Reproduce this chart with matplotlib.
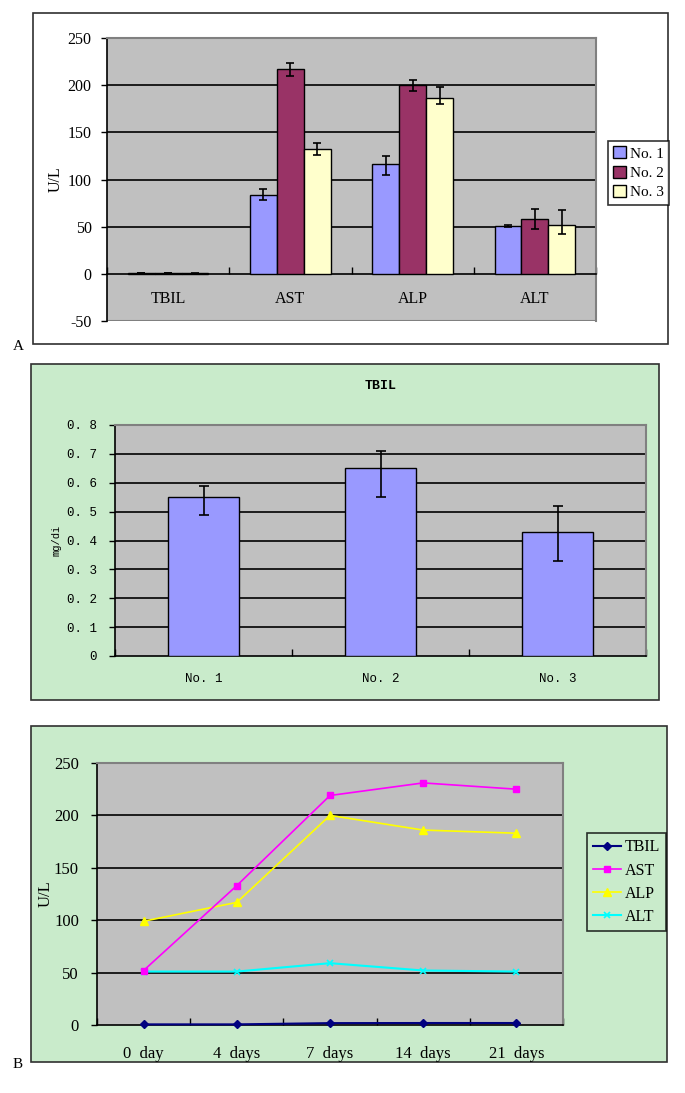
import matplotlib
matplotlib.use("Agg")
import matplotlib.pyplot as plt
import numpy as np
from matplotlib.patches import Rectangle

# ---------------- data ----------------
# Panel A
tests_A = ["TBIL", "AST", "ALP", "ALT"]
groups = ["No. 1", "No. 2", "No. 3"]
no1_vals = [0.55, 84, 116, 51]
no2_vals = [0.65, 217, 200, 58]
no3_vals = [0.43, 132, 186, 52]
no1_err_lo = [0.06, 6, 11, 1]
no1_err_hi = [0.04, 6, 9, 1]
no2_err_lo = [0.10, 7, 6, 11]
no2_err_hi = [0.06, 6, 6, 11]
no3_err_lo = [0.10, 6, 6, 10]
no3_err_hi = [0.09, 7, 12, 16]
yticks_A = [-50, 0, 50, 100, 150, 200, 250]

# Panel TBIL
tbil_groups = ["No. 1", "No. 2", "No. 3"]
tbil_vals = [0.55, 0.65, 0.43]
tbil_err_lo = [0.06, 0.10, 0.10]
tbil_err_hi = [0.04, 0.06, 0.09]
yticks_T = [0, 0.1, 0.2, 0.3, 0.4, 0.5, 0.6, 0.7, 0.8]
ytick_labels_T = ["0", "0. 1", "0. 2", "0. 3", "0. 4", "0. 5", "0. 6", "0. 7", "0. 8"]

# Panel B
days = ["0  day", "4  days", "7  days", "14  days", "21  days"]
tbil_B = [0.6, 0.6, 1.8, 1.9, 1.9]
ast_B = [52, 133, 219, 231, 225]
alp_B = [99, 117, 200, 186, 183]
alt_B = [51, 51, 59, 52, 51]
yticks_B = [0, 50, 100, 150, 200, 250]

# ---------------- layout helpers ----------------
W, H = 685, 1093
fig = plt.figure(figsize=(W / 100, H / 100), dpi=100)
fig.patch.set_facecolor("white")


def ax_px(l, r, t, b):
    a = fig.add_axes([l / W, 1 - b / H, (r - l) / W, (b - t) / H])
    a.set_zorder(2)
    return a


def frame_px(l, r, t, b, fc, ec="#303030", lw=1.2):
    fig.patches.append(Rectangle((l / W, 1 - b / H), (r - l) / W, (b - t) / H,
                                 transform=fig.transFigure, facecolor=fc,
                                 edgecolor=ec, lw=lw, zorder=-5))


GREEN = "#C9EBCB"
GRAY = "#C0C0C0"
SERIF = "Liberation Serif"
MONO = "Liberation Mono"

# ================= Panel A =================
frame_px(33, 668, 13, 344, "white")
fig.text(18 / W, 1 - 347 / H, "A", fontsize=11, family=SERIF, ha="center", va="center")
axA = ax_px(107, 596, 38, 321)
axA.set_facecolor(GRAY)
axA.set_xlim(-0.5, len(tests_A) - 0.5)
axA.set_ylim(-50, 250)
x = np.arange(len(tests_A))
bw = 0.22
ekw = dict(ecolor="black", elinewidth=1.2, capsize=3.2, capthick=1.2)
axA.bar(x - bw, no1_vals, bw, color="#9999FF", edgecolor="black", lw=1,
        yerr=[no1_err_lo, no1_err_hi], error_kw=ekw, label=groups[0], zorder=3)
axA.bar(x, no2_vals, bw, color="#993366", edgecolor="black", lw=1,
        yerr=[no2_err_lo, no2_err_hi], error_kw=ekw, label=groups[1], zorder=3)
axA.bar(x + bw, no3_vals, bw, color="#FFFFCC", edgecolor="black", lw=1,
        yerr=[no3_err_lo, no3_err_hi], error_kw=ekw, label=groups[2], zorder=3)
for v in yticks_A[2:-1]:
    axA.axhline(v, color="black", lw=1.2, zorder=1)
axA.axhline(-50, color="#808080", lw=1.5, zorder=1)
axA.spines["bottom"].set_position(("data", 0))
axA.spines["bottom"].set_color("black")
axA.spines["bottom"].set_linewidth(1.2)
axA.spines["left"].set_color("black")
axA.spines["left"].set_linewidth(1.2)
for s in ("top", "right"):
    axA.spines[s].set_color("#808080")
    axA.spines[s].set_linewidth(1.5)
axA.set_xticks(np.arange(len(tests_A) + 1) - 0.5)
axA.set_xticklabels([])
axA.tick_params(axis="x", direction="in", length=5, width=1, color="black")
for i, t in enumerate(tests_A):
    axA.text(i, -27, t, ha="center", va="center", fontsize=11.5, family=SERIF)
axA.set_yticks(yticks_A)
axA.set_yticklabels([str(v) for v in yticks_A], fontsize=11.5, family=SERIF)
axA.tick_params(axis="y", direction="out", length=4, width=1, pad=7)
axA.set_ylabel("U/L", fontsize=11.5, family=SERIF)
axA.yaxis.set_label_coords(-(107 - 64) / (596 - 107), 0.5)
legA = fig.legend(loc="upper left", bbox_to_anchor=(608 / W, 1 - 141 / H),
                  prop={"family": SERIF, "size": 11}, frameon=True, fancybox=False,
                  handlelength=0.8, handleheight=0.8, handletextpad=0.3,
                  borderpad=0.35, labelspacing=0.35, borderaxespad=0)
legA.get_frame().set_edgecolor("black")
legA.get_frame().set_linewidth(1.2)
legA.get_frame().set_facecolor("white")
legA.set_zorder(5)

# ================= Panel TBIL =================
frame_px(31, 659, 364, 700, GREEN)
axT = ax_px(115, 646, 425, 656)
axT.set_facecolor(GRAY)
xt = np.arange(len(tbil_groups))
axT.set_xlim(-0.5, len(tbil_groups) - 0.5)
axT.set_ylim(0, 0.8)
axT.bar(xt, tbil_vals, 0.4, color="#9999FF", edgecolor="black", lw=1,
        yerr=[tbil_err_lo, tbil_err_hi],
        error_kw=dict(ecolor="black", elinewidth=1.2, capsize=3.5, capthick=1.2), zorder=3)
for v in yticks_T[1:-1]:
    axT.axhline(v, color="black", lw=1.2, zorder=1)
axT.spines["bottom"].set_color("black")
axT.spines["bottom"].set_linewidth(1.2)
axT.spines["left"].set_color("black")
axT.spines["left"].set_linewidth(1.2)
for s in ("top", "right"):
    axT.spines[s].set_color("#808080")
    axT.spines[s].set_linewidth(1.5)
axT.set_xticks(np.arange(len(tbil_groups) + 1) - 0.5)
axT.set_xticklabels([])
axT.tick_params(axis="x", which="major", direction="in", length=5, width=1)
axT.set_xticks(xt, minor=True)
axT.set_xticklabels(tbil_groups, minor=True, fontsize=9, family=MONO)
axT.tick_params(axis="x", which="minor", length=0, pad=12)
axT.set_yticks(yticks_T)
axT.set_yticklabels(ytick_labels_T, fontsize=9, family=MONO)
axT.tick_params(axis="y", direction="out", length=4, width=1, pad=9)
axT.set_ylabel("mg/di", fontsize=7.5, family=MONO)
axT.yaxis.set_label_coords(-(115 - 62) / (646 - 115), 0.5)
axT.set_title("TBIL", fontsize=9.5, family=MONO, fontweight="bold", pad=26)

# ================= Panel B =================
frame_px(31, 667, 726, 1062, GREEN)
fig.text(18 / W, 1 - 1064 / H, "B", fontsize=11, family=SERIF, ha="center", va="center")
axB = ax_px(97, 563, 763, 1025)
axB.set_facecolor(GRAY)
xb = np.arange(len(days))
axB.set_xlim(-0.5, len(days) - 0.5)
axB.set_ylim(0, 250)
for v in yticks_B[1:-1]:
    axB.axhline(v, color="black", lw=1.2, zorder=1)
axB.plot(xb, alt_B, color="#00FFFF", marker="x", ms=5, mew=1.2, lw=1.5, label="ALT", zorder=3)
axB.plot(xb, alp_B, color="#FFFF00", marker="^", ms=6, lw=1.2, label="ALP", zorder=4)
axB.plot(xb, ast_B, color="#FF00FF", marker="s", ms=5, lw=1.2, label="AST", zorder=5)
axB.plot(xb, tbil_B, color="#000080", marker="D", ms=4, lw=1.5, label="TBIL", zorder=6,
         clip_on=False)
axB.spines["bottom"].set_color("black")
axB.spines["bottom"].set_linewidth(1.2)
axB.spines["left"].set_color("black")
axB.spines["left"].set_linewidth(1.2)
for s in ("top", "right"):
    axB.spines[s].set_color("#808080")
    axB.spines[s].set_linewidth(1.5)
axB.set_xticks(np.arange(len(days) + 1) - 0.5)
axB.set_xticklabels([])
axB.tick_params(axis="x", which="major", direction="in", length=5, width=1)
axB.set_xticks(xb, minor=True)
axB.set_xticklabels(days, minor=True, fontsize=12, family=SERIF)
axB.tick_params(axis="x", which="minor", length=0, pad=15)
axB.set_yticks(yticks_B)
axB.set_yticklabels([str(v) for v in yticks_B], fontsize=12, family=SERIF)
axB.tick_params(axis="y", direction="out", length=4, width=1, pad=9)
axB.set_ylabel("U/L", fontsize=12, family=SERIF)
axB.yaxis.set_label_coords(-(97 - 54) / (563 - 97), 0.5)
h, l = axB.get_legend_handles_labels()
order = [l.index(n) for n in ["TBIL", "AST", "ALP", "ALT"]]
legB = fig.legend([h[i] for i in order], [l[i] for i in order],
                  loc="upper left", bbox_to_anchor=(587 / W, 1 - 833 / H),
                  prop={"family": SERIF, "size": 11.5}, frameon=True, fancybox=False,
                  handlelength=1.7, handletextpad=0.25, borderpad=0.4,
                  labelspacing=0.45, borderaxespad=0)
legB.get_frame().set_edgecolor("black")
legB.get_frame().set_linewidth(1.2)
legB.get_frame().set_facecolor(GREEN)
legB.set_zorder(5)

fig.savefig("out.png", dpi=100)
